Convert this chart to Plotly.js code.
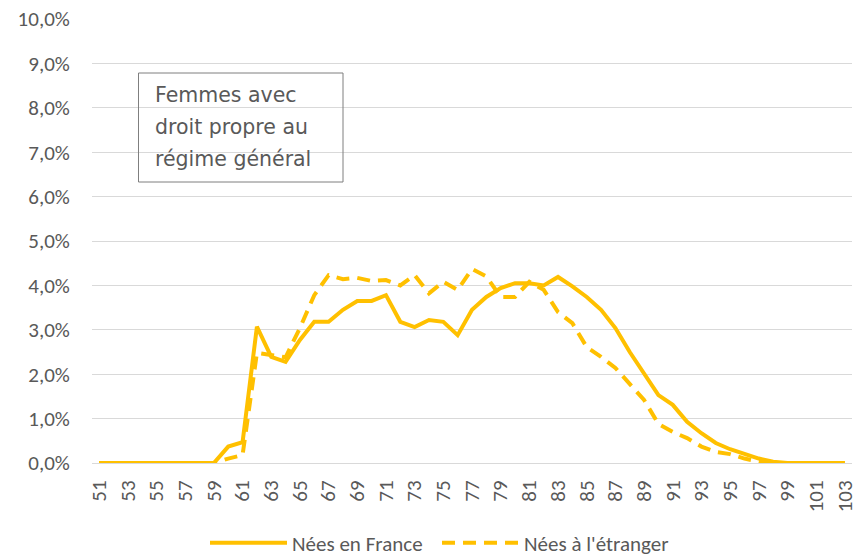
<!DOCTYPE html>
<html>
<head>
<meta charset="utf-8">
<script src="https://cdn.plot.ly/plotly-3.0.1.min.js"></script>
<style>html,body{margin:0;padding:0;background:#fff;}#chart{width:859px;height:556px;}</style>
</head>
<body>
<div id="chart"></div>
<script>
const ages = [51,52,53,54,55,56,57,58,59,60,61,62,63,64,65,66,67,68,69,70,71,72,73,74,75,76,77,78,79,80,81,82,83,84,85,86,87,88,89,90,91,92,93,94,95,96,97,98,99,100,101,102,103];
const neesFrance = [0,0,0,0,0,0,0,0,0,0.0037,0.0047,0.0307,0.0239,0.0228,0.0277,0.0318,0.0318,0.0345,0.0365,0.0365,0.0378,0.0318,0.0306,0.0322,0.0318,0.0288,0.0345,0.0374,0.0394,0.0405,0.0405,0.0400,0.0419,0.0398,0.0374,0.0345,0.0304,0.0250,0.0203,0.0153,0.0131,0.0093,0.0067,0.0045,0.0031,0.0020,0.0010,0.0003,0,0,0,0,0];
const neesEtranger = [0,0,0,0,0,0,0,0,0,0.0010,0.0018,0.0248,0.0243,0.0238,0.0304,0.0378,0.0423,0.0414,0.0417,0.0410,0.0412,0.0400,0.0423,0.0382,0.0408,0.0390,0.0437,0.0420,0.0374,0.0374,0.0408,0.0390,0.0340,0.0315,0.0261,0.0239,0.0214,0.0178,0.0142,0.0088,0.0070,0.0056,0.0037,0.0025,0.0020,0.0010,0.0003,0,0,0,0,0,0];
const seriesNames = ["Nées en France", "Nées à l'étranger"];
const xTicks = ages.filter((a,i)=> i%2===0);
const boxLines = ["Femmes avec", "droit propre au", "régime général"];

const gold = '#FFC000';
const grey = '#595959';
const font = 'Calibri, Carlito, "Open Sans", sans-serif';
const boxFont = '"DejaVu Sans", sans-serif';

const traces = [
  {x: ages, y: neesFrance, name: seriesNames[0], type: 'scatter', mode: 'lines',
   line: {color: gold, width: 4}},
  {x: ages, y: neesEtranger, name: seriesNames[1], type: 'scatter', mode: 'lines',
   line: {color: gold, width: 4, dash: '13px,8px'}}
];

const L = 92, T = 19, W = 760, H = 444;
const px = v => (v - L) / W;
const py = v => (T + H - v) / H;

const annotations = boxLines.map((t, i) => ({
  xref: 'paper', yref: 'paper', x: px(153), y: py(95 + i * 32), xanchor: 'left', yanchor: 'middle',
  text: t, showarrow: false, align: 'left', font: {size: 20.5, color: grey, family: boxFont}
}));

const layout = {
  width: 859, height: 556,
  margin: {l: L, r: 859 - L - W, t: T, b: 556 - T - H, autoexpand: false},
  paper_bgcolor: '#fff', plot_bgcolor: '#fff',
  separators: ', ',
  font: {family: font, color: grey, size: 21},
  showlegend: true,
  legend: {orientation: 'h', x: px(205), xanchor: 'left', y: py(543), yanchor: 'middle',
           font: {size: 21, color: grey, family: font}, itemwidth: 77, traceorder: 'normal',
           entrywidth: 140},
  xaxis: {range: [50.5, 103.5], tickmode: 'array', tickvals: xTicks, ticktext: xTicks.map(String),
          tickangle: -90, showgrid: false, zeroline: false, showline: true, linecolor: '#d9d9d9', linewidth: 1,
          ticks: 'outside', ticklen: 8, tickcolor: 'rgba(0,0,0,0)',
          tickfont: {size: 21, color: grey}, fixedrange: true},
  yaxis: {range: [0, 0.1], dtick: 0.01, tick0: 0, tickformat: '.1%', showgrid: true, gridcolor: '#d9d9d9',
          gridwidth: 1, zeroline: false, showline: false, ticks: 'outside', ticklen: 17, tickcolor: 'rgba(0,0,0,0)',
          tickfont: {size: 21, color: grey}, fixedrange: true},
  shapes: [{type: 'rect', xref: 'paper', yref: 'paper', x0: px(138.5), x1: px(343), y0: py(182), y1: py(73),
            line: {color: '#7f7f7f', width: 1}, fillcolor: 'rgba(255,255,255,0)'}],
  annotations: annotations
};

Plotly.newPlot('chart', traces, layout, {displayModeBar: false, staticPlot: true});
</script>
</body>
</html>
